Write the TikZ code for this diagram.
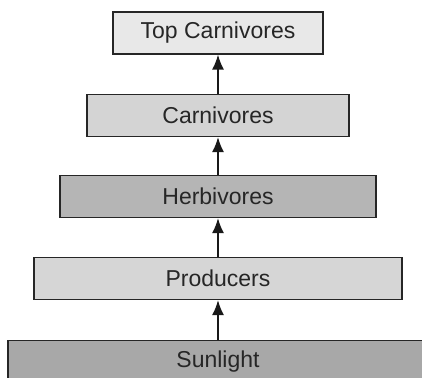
\documentclass[tikz,border=0pt]{standalone}
\usepackage{fontspec}
\setmainfont{Liberation Sans}
\usetikzlibrary{arrows.meta}

\tikzset{
  level/.style={draw=black!85, line width=1.4pt, minimum height=42pt, inner sep=0pt,
    text=black!85, font=\fontsize{23}{27}\selectfont},
  up/.style={-{Latex[length=15pt,width=12pt]}, line width=1.4pt, black!90}
}

\begin{document}
\begin{tikzpicture}[x=1pt,y=1pt]
        \useasboundingbox (0,0) rectangle (422,-377);
        \fill[white] (0,0) rectangle (422,-377);
        \node[level, fill=black!9, minimum width=210pt] (topcarn) at (218,-33) {Top Carnivores};
        \node[level, fill=black!17, minimum width=262pt] (carn) at (218,-115.5) {Carnivores};
        \node[level, fill=black!29, minimum width=316pt] (herb) at (218,-196.5) {Herbivores};
        \node[level, fill=black!16, minimum width=368pt] (prod) at (218,-278.5) {Producers};
        \node[level, fill=black!34, minimum width=420pt] (sun) at (218,-361.5) {Sunlight};
        \draw[up] (carn) -- (topcarn);
        \draw[up] (herb) -- (carn);
        \draw[up] (prod) -- (herb);
        \draw[up] (sun) -- (prod);
      \end{tikzpicture}
\end{document}
